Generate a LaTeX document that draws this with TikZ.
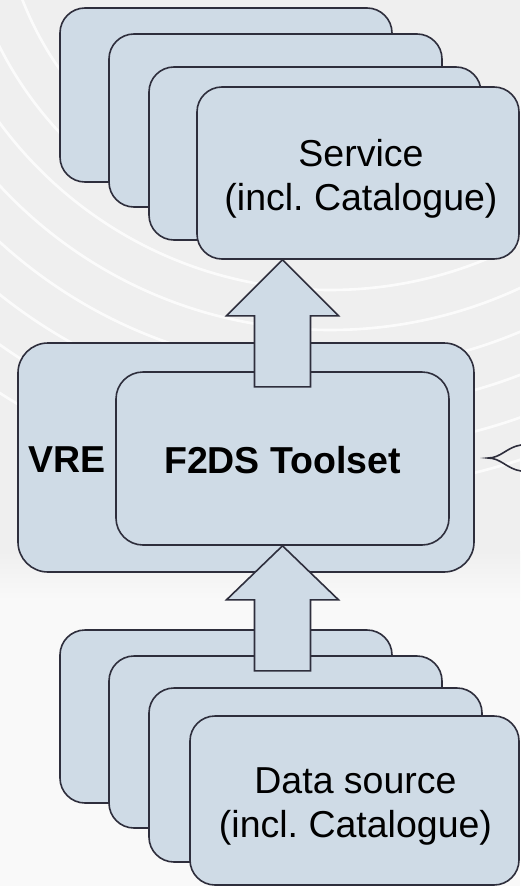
\documentclass[tikz,border=0pt]{standalone}
\usepackage{fontspec}
\setmainfont{Liberation Sans}
\usetikzlibrary{calc}
\definecolor{boxfill}{HTML}{CFDBE6}
\definecolor{boxline}{HTML}{2E2E3C}
\definecolor{bgtop}{HTML}{EFEFEF}
\definecolor{bgbot}{HTML}{F9F9F9}
\frenchspacing
\begin{document}
\begin{tikzpicture}[x=1pt,y=-1pt,
  card/.style={draw=boxline, fill=boxfill, line width=1.6pt, rounded corners=25pt,
    inner sep=0pt, align=center, font=\fontsize{37.5}{43.5}\selectfont},
  bigcard/.style={card, rounded corners=30pt},
  tool/.style={card, rounded corners=27pt, font=\fontsize{37.5}{43.5}\selectfont\bfseries},
  lbl/.style={inner sep=0pt, font=\fontsize{37.5}{43.5}\selectfont\bfseries},
  txt/.style={inner sep=0pt, align=center, font=\fontsize{37.5}{43.5}\selectfont},
  blockarrow/.style={draw=boxline, fill=boxfill, line width=1.6pt, line join=miter},
  swoosh/.style={white, line width=2.6pt, opacity=0.8},
  bracket/.style={draw=boxline, line width=1.6pt}]
\useasboundingbox (0,0) rectangle (520,886);
% background
\fill[bgtop] (0,0) rectangle (520,552);
\shade[top color=bgtop, bottom color=bgbot] (0,551) rectangle (520,600);
\fill[bgbot] (0,599) rectangle (520,886);
\begin{scope}
  \clip (0,0) rectangle (520,560);
  \foreach \r in {330,370,410,450,490,530,570,610}
    \draw[swoosh] (330,-120) circle[radius=\r pt];
\end{scope}
% top stack
\node[card, minimum width=332pt, minimum height=174pt] (svc1) at (226,95) {};
\node[card, minimum width=333pt, minimum height=173pt] (svc2) at (275.5,120.5) {};
\node[card, minimum width=332pt, minimum height=173pt] (svc3) at (315,153.5) {};
\node[card, minimum width=322pt, minimum height=172pt] (svc4) at (358,173) {};
\node[txt] (svctext) at ($(svc4.center)+(3,6)$) {Service\\(incl. Catalogue)};
% VRE
\node[bigcard, minimum width=456pt, minimum height=229pt] (vre) at (246,457.5) {};
\node[tool, minimum width=333pt, minimum height=173pt] (toolset) at (282.5,458.5) {};
\node[lbl] (tooltext) at ($(toolset.center)+(0,2)$) {F2DS Toolset};
\node[lbl] (vrelbl) at (67,460) {VRE};
% upper block arrow
\coordinate (uptip) at (toolset.north |- svc4.south);
\draw[blockarrow] (uptip) -- ++(56,56) -- ++(-28,0) -- ++(0,71) -- ++(-56,0)
  -- ++(0,-71) -- ++(-28,0) -- cycle;
% bottom stack
\node[card, minimum width=332pt, minimum height=173pt] (ds1) at (226,716.5) {};
\node[card, minimum width=333pt, minimum height=172pt] (ds2) at (275.5,742) {};
\coordinate (lotip) at (toolset.south);
\draw[blockarrow] (lotip) -- ++(56,54) -- ++(-28,0) -- ++(0,71) -- ++(-56,0)
  -- ++(0,-71) -- ++(-28,0) -- cycle;
\node[card, minimum width=333pt, minimum height=174pt] (ds3) at (315.5,775) {};
\node[card, minimum width=329pt, minimum height=169pt] (ds4) at (354.5,800.5) {};
\node[txt] (dstext) at ($(ds4.center)+(1,6)$) {Data source\\(incl. Catalogue)};
% bracket tip at right
\coordinate (btip) at (488,458);
\coordinate (bup) at (521,445);
\coordinate (blo) at (521,471);
\draw[bracket] (bup) .. controls (507,447) and (501,458) .. (btip)
  .. controls (501,458) and (507,469) .. (blo);
\end{tikzpicture}
\end{document}
